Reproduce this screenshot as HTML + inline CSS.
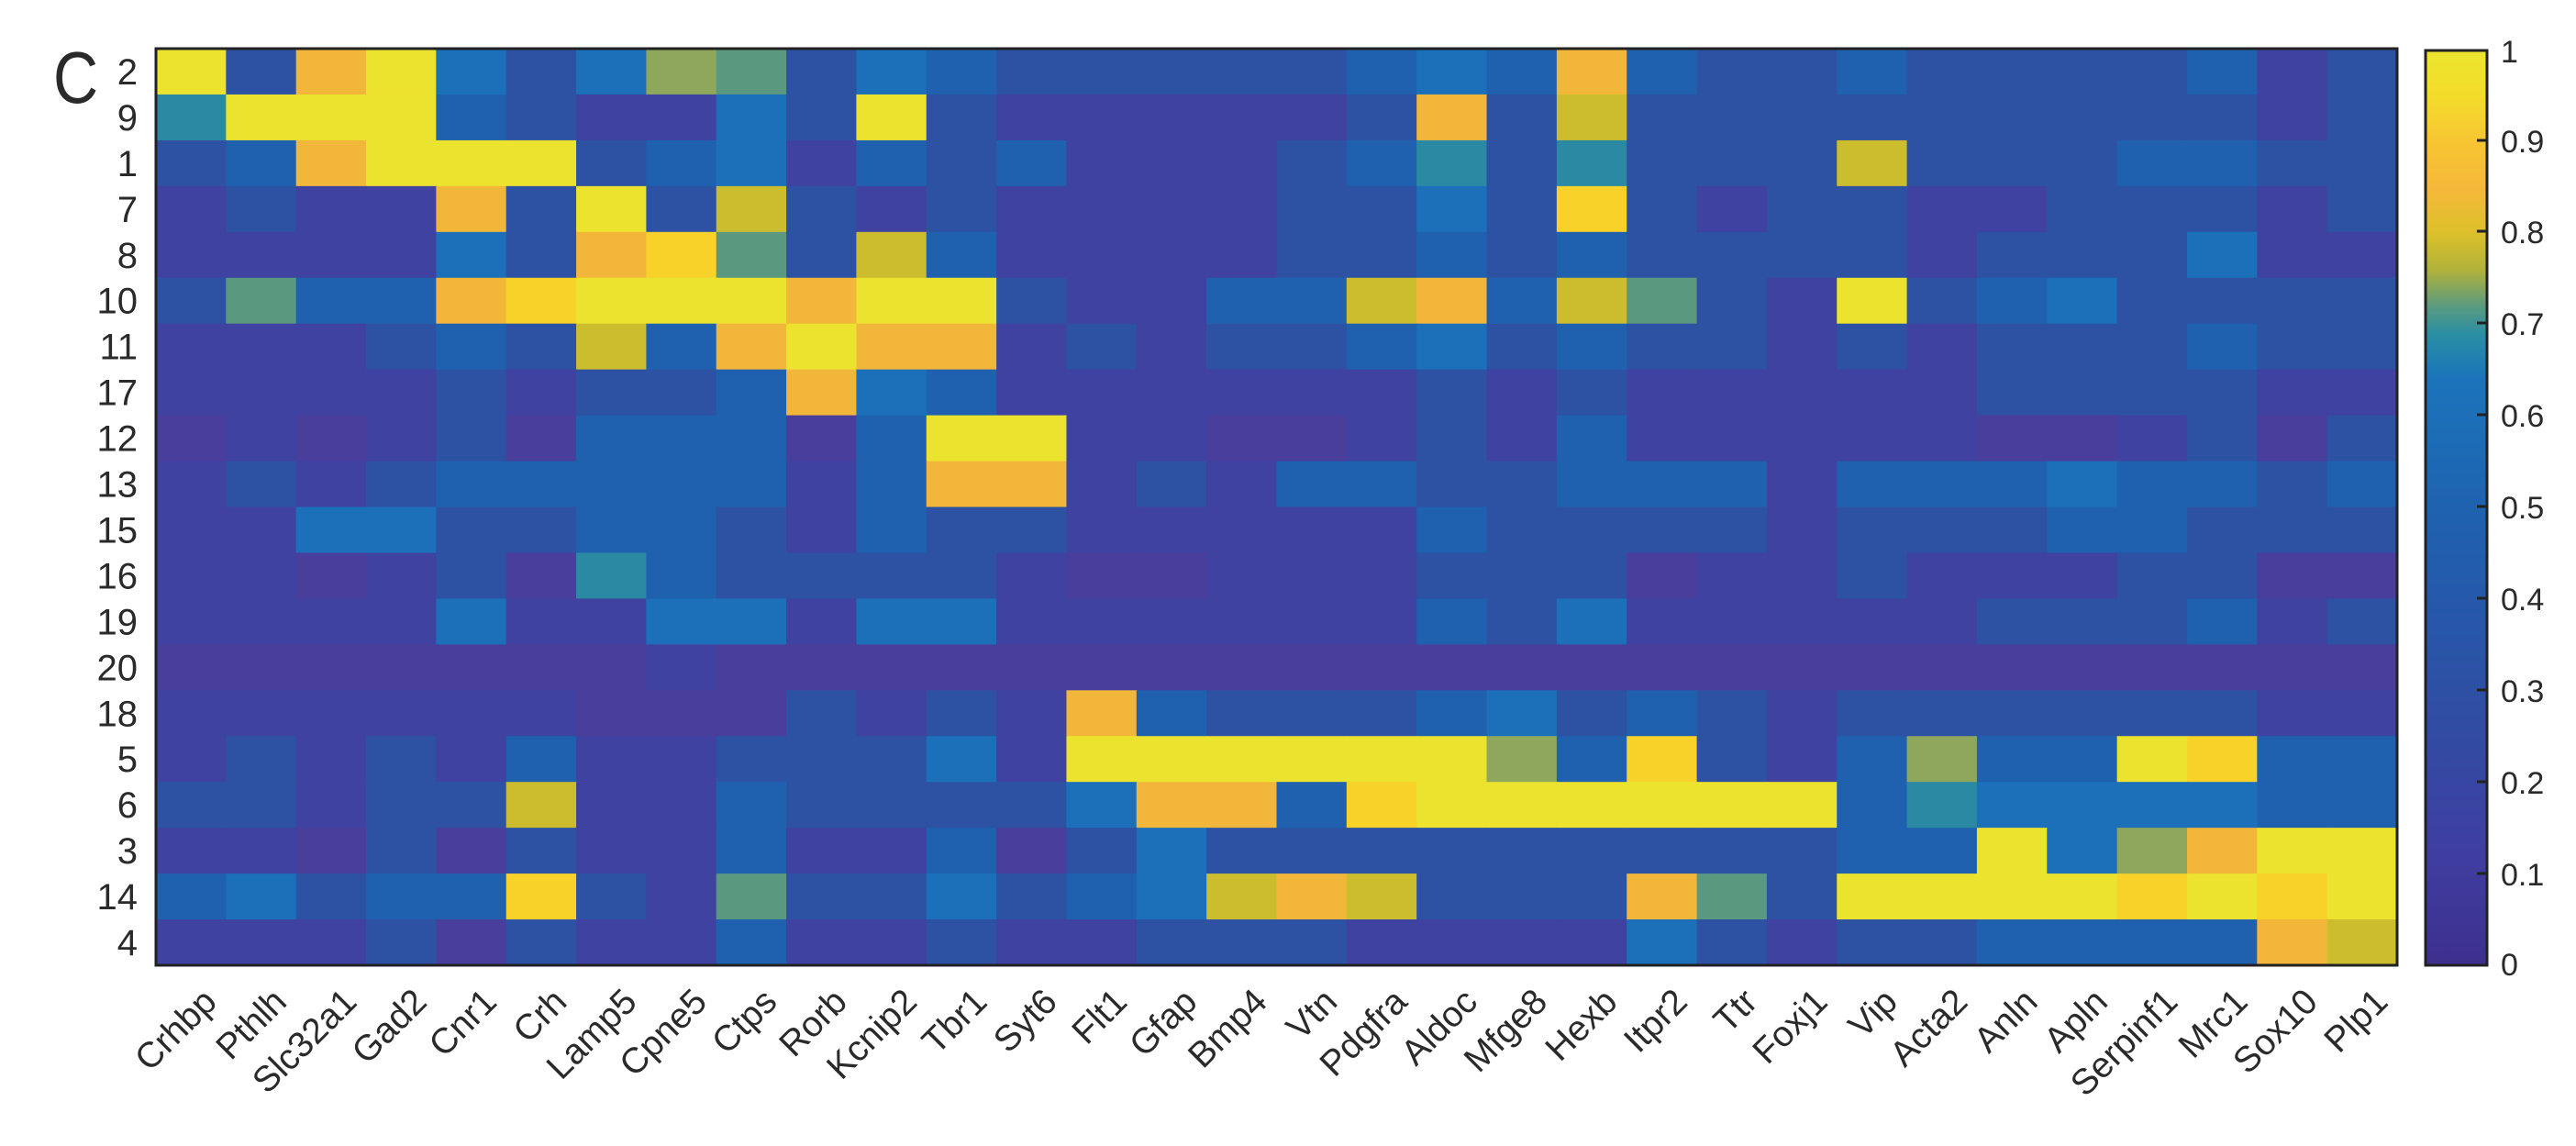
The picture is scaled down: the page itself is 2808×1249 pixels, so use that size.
<!DOCTYPE html>
<html><head><meta charset="utf-8">
<style>
html,body{margin:0;padding:0;background:#fff;width:2808px;height:1249px;overflow:hidden;}
svg{display:block;}
text{font-family:"Liberation Sans",Arial,sans-serif;fill:#2a2a2a;}
</style></head>
<body>
<svg id="s" width="2808" height="1249" viewBox="0 0 2808 1249" xmlns="http://www.w3.org/2000/svg">
<defs>
<linearGradient id="cb" x1="0" y1="1" x2="0" y2="0">
<stop offset="0" stop-color="#3d2f8e"/>
<stop offset="0.12" stop-color="#3f3ea0"/>
<stop offset="0.3" stop-color="#2d50a4"/>
<stop offset="0.5" stop-color="#1e62b0"/>
<stop offset="0.64" stop-color="#1b74bb"/>
<stop offset="0.69" stop-color="#2a8fa4"/>
<stop offset="0.72" stop-color="#5a9a80"/>
<stop offset="0.76" stop-color="#b0b23a"/>
<stop offset="0.8" stop-color="#dcc02a"/>
<stop offset="0.85" stop-color="#f6b83a"/>
<stop offset="0.9" stop-color="#f7c532"/>
<stop offset="0.95" stop-color="#f3dc2a"/>
<stop offset="1" stop-color="#ece52e"/>
</linearGradient>
</defs>
<g id="cells"></g>
<rect x="170" y="53" width="2443" height="999" fill="none" stroke="#222" stroke-width="3"/>
<rect x="2644" y="55" width="67" height="997" fill="url(#cb)" stroke="#222" stroke-width="3"/>
<g stroke="#222" stroke-width="3">
<line x1="2700" y1="153" x2="2711" y2="153"/><line x1="2700" y1="252" x2="2711" y2="252"/>
<line x1="2700" y1="352" x2="2711" y2="352"/><line x1="2700" y1="452" x2="2711" y2="452"/>
<line x1="2700" y1="552" x2="2711" y2="552"/><line x1="2700" y1="652" x2="2711" y2="652"/>
<line x1="2700" y1="752" x2="2711" y2="752"/><line x1="2700" y1="852" x2="2711" y2="852"/>
<line x1="2700" y1="952" x2="2711" y2="952"/>
</g>
<g font-size="34">
<text x="2726" y="68">1</text>
<text x="2726" y="166">0.9</text>
<text x="2726" y="265">0.8</text>
<text x="2726" y="365">0.7</text>
<text x="2726" y="465">0.6</text>
<text x="2726" y="565">0.5</text>
<text x="2726" y="665">0.4</text>
<text x="2726" y="765">0.3</text>
<text x="2726" y="865">0.2</text>
<text x="2726" y="965">0.1</text>
<text x="2726" y="1063">0</text>
</g>
<text x="58" y="112" font-size="80" transform="translate(58 0) scale(0.85 1) translate(-58 0)">C</text>
<g id="rl" font-size="40" text-anchor="end"></g>
<g id="cl" font-size="39" text-anchor="end"></g>
</svg>
<script>
var rows=["2","9","1","7","8","10","11","17","12","13","15","16","19","20","18","5","6","3","14","4"];
var cols=["Crhbp","Pthlh","Slc32a1","Gad2","Cnr1","Crh","Lamp5","Cpne5","Ctps","Rorb","Kcnip2","Tbr1","Syt6","Flt1","Gfap","Bmp4","Vtn","Pdgfra","Aldoc","Mfge8","Hexb","Itpr2","Ttr","Foxj1","Vip","Acta2","Anln","Apln","Serpinf1","Mrc1","Sox10","Plp1"];
var M=[
"B29B424762 4322222343 9322322223 12",
"5BBB321142 B211111292 8222222222 12",
"239BBB2341 3231112352 5222822233 22",
"121192B282 1211112242 A212211222 12",
"1111429A62 8311112232 3222212224 11",
"26339ABBB9 BB21133893 8621B23422 22",
"111232839B 9912122342 3221212223 22",
"1111212239 4311111121 2111112222 11",
"0101203330 3BB1100121 3111110012 02",
"1212333331 3991213322 3331333433 23",
"1144223321 3221111132 2221222332 22",
"1101205322 2210011122 2011211122 00",
"1111411441 4411111132 4111112223 12",
"0000000100 0000000000 0000000000 00",
"1111110002 1219322234 2321222222 11",
"1212131122 241BBBBBB7 3A213733BA 33",
"2212281132 2224993ABB BBBB354444 33",
"1102021131 1302422222 222233B479 BB",
"34233A2162 2423489822 2962BBBBAB AB",
"1112021131 1211222111 1421223333 98"
];
var C={"0":"#4a3e9c","1":"#3f42a0","2":"#2d52a3","3":"#1f61ae","4":"#1b70b9","5":"#2a8aa4","6":"#5b9880","7":"#8ea75c","8":"#ccbd2e","9":"#f2b73a","A":"#f8d129","B":"#ece32e"};
var x0=170,y0=53,cw=2443/32,rh=999/20,g=document.getElementById("cells"),ns="http://www.w3.org/2000/svg";
for(var r=0;r<20;r++){var s=M[r].replace(/ /g,"");
 for(var c=0;c<32;c++){var e=document.createElementNS(ns,"rect");
  e.setAttribute("x",(x0+c*cw).toFixed(2));e.setAttribute("y",(y0+r*rh).toFixed(2));
  e.setAttribute("width",(cw+0.8).toFixed(2));e.setAttribute("height",(rh+0.8).toFixed(2));
  e.setAttribute("fill",C[s[c]]||"#2d52a3");g.appendChild(e);}
}
var rl=document.getElementById("rl");
for(var r=0;r<20;r++){var t=document.createElementNS(ns,"text");t.setAttribute("x",150);t.setAttribute("y",(y0+r*rh+rh/2+14).toFixed(1));t.textContent=rows[r];rl.appendChild(t);}
var cl=document.getElementById("cl");
for(var c=0;c<32;c++){var cx=x0+c*cw+cw/2+30,cy=1094;var t=document.createElementNS(ns,"text");t.setAttribute("x",cx.toFixed(1));t.setAttribute("y",cy);t.setAttribute("transform","rotate(-45 "+cx.toFixed(1)+" "+cy+")");t.textContent=cols[c];cl.appendChild(t);}
</script>
</body></html>
